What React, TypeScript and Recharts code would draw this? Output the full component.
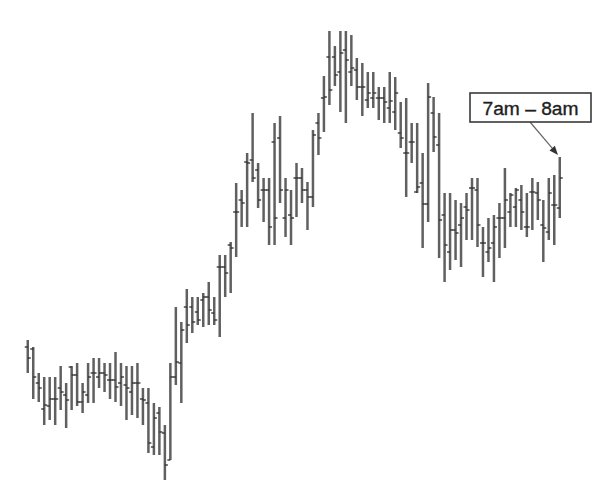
import { BarChart, Bar, XAxis, YAxis, ReferenceDot } from 'recharts'

// hourly OHLC bars, price units (higher = up)
const open = [
  153, 151, 117, 91, 94, 101, 112, 105, 133, 125, 98, 105, 127, 123, 127, 120, 120, 117, 115, 108,
  117, 101, 97, 53, 87, 67, 40, 123, 137, 193, 193, 188, 200, 203, 187, 233, 233, 255, 288, 300,
  338, 340, 330, 310, 310, 358, 362, 282, 285, 322, 322, 310, 303, 377, 402, 443, 443, 428, 450, 428,
  430, 413, 400, 402, 402, 402, 392, 388, 367, 347, 358, 308, 317, 296, 387, 355, 285, 248, 270, 275,
  293, 312, 310, 257, 248, 257, 282, 282, 288, 293, 300, 273, 308, 307, 275, 268, 295, 292,
]
const high = [
  160, 153, 127, 123, 123, 123, 134, 117, 134, 137, 117, 137, 142, 142, 137, 137, 148, 137, 134, 134,
  137, 112, 112, 97, 93, 75, 137, 193, 178, 211, 203, 203, 207, 218, 203, 245, 245, 258, 317, 310,
  347, 387, 337, 322, 322, 377, 384, 322, 310, 337, 332, 318, 370, 387, 424, 469, 454, 469, 469, 465,
  442, 437, 428, 428, 413, 413, 428, 423, 398, 402, 377, 377, 347, 417, 403, 387, 307, 307, 300, 297,
  307, 322, 322, 273, 282, 285, 297, 332, 307, 312, 315, 307, 322, 318, 300, 322, 325, 343,
]
const low = [
  127, 101, 98, 75, 80, 75, 90, 72, 90, 94, 87, 97, 97, 112, 108, 101, 98, 94, 80, 85,
  82, 75, 47, 45, 45, 20, 40, 115, 97, 157, 167, 175, 173, 175, 175, 163, 203, 207, 243, 273,
  273, 318, 292, 278, 255, 255, 297, 263, 255, 283, 297, 270, 293, 345, 368, 395, 414, 388, 377, 414,
  400, 384, 392, 392, 380, 377, 377, 370, 352, 303, 337, 307, 252, 278, 348, 242, 218, 230, 240, 233,
  260, 260, 253, 223, 238, 218, 242, 252, 273, 273, 270, 263, 270, 280, 238, 260, 255, 282,
]
const close = [
  142, 123, 112, 95, 101, 101, 108, 100, 125, 98, 108, 123, 127, 127, 125, 120, 113, 123, 112, 117,
  117, 100, 57, 82, 68, 35, 123, 138, 170, 175, 178, 180, 203, 190, 180, 233, 227, 252, 288, 297,
  337, 322, 300, 310, 273, 282, 310, 310, 282, 322, 310, 303, 365, 362, 403, 410, 425, 447, 440, 432,
  413, 413, 407, 407, 402, 398, 399, 407, 362, 347, 358, 313, 296, 403, 363, 280, 255, 270, 267, 282,
  290, 312, 275, 257, 252, 273, 282, 300, 305, 310, 288, 273, 308, 300, 272, 307, 295, 322,
]

const calloutText = '7am – 8am'

const data = open.map((o, i) => ({
  idx: i,
  open: o,
  high: high[i],
  low: low[i],
  close: close[i],
  range: [low[i], high[i]],
}))

const last = data.length - 1

function OhlcBar(props: any) {
  const { x, y, width, height, payload } = props
  const cx = x + width / 2
  const top = Math.min(y, y + height)
  const h = Math.abs(height)
  const span = payload.high - payload.low || 1
  const yOf = (v: number) => top + ((payload.high - v) / span) * h
  const yo = yOf(payload.open)
  const yc = yOf(payload.close)
  return (
    <g>
      <line x1={cx} x2={cx} y1={top} y2={top + h} stroke="#606060" strokeWidth={2.5} />
      <line x1={cx - 3} x2={cx} y1={yo} y2={yo} stroke="#2a2a2a" strokeWidth={1.3} />
      <line x1={cx} x2={cx + 3} y1={yc} y2={yc} stroke="#2a2a2a" strokeWidth={1.3} />
    </g>
  )
}

function Callout(props: any) {
  const { cx, cy } = props
  const tipX = cx - 2
  const tipY = cy - 2
  const sx = cx - 30
  const sy = cy - 35
  const dx = tipX - sx
  const dy = tipY - sy
  const len = Math.sqrt(dx * dx + dy * dy)
  const ux = dx / len
  const uy = dy / len
  const bx = tipX - ux * 9
  const by = tipY - uy * 9
  const head = `${tipX},${tipY} ${bx - uy * 3.5},${by + ux * 3.5} ${bx + uy * 3.5},${by - ux * 3.5}`
  return (
    <g>
      <line x1={sx} y1={sy} x2={bx} y2={by} stroke="#666" strokeWidth={1.2} />
      <polygon points={head} fill="#333" />
      <rect x={cx - 90} y={cy - 64} width={121} height={29} fill="#fff" stroke="#3a3a3a" strokeWidth={1.6} />
      <text
        x={cx - 29.5}
        y={cy - 42.5}
        textAnchor="middle"
        fontFamily="'Liberation Sans', Arial, sans-serif"
        fontSize={18}
        fill="#1e1e1e"
        stroke="#1e1e1e"
        strokeWidth={0.35}
        textLength={96}
        lengthAdjust="spacingAndGlyphs"
      >
        {calloutText}
      </text>
    </g>
  )
}

export default function App() {
  return (
    <div style={{ position: 'absolute', left: 0, top: 0, background: '#fff' }}>
      <BarChart width={605} height={496} data={data} margin={{ top: 0, right: 0, bottom: 0, left: 0 }}>
        <XAxis dataKey="idx" type="number" domain={[-5.105, 105.205]} hide />
        <YAxis type="number" domain={[4, 500]} hide allowDataOverflow />
        <Bar dataKey="range" barSize={3} shape={OhlcBar} isAnimationActive={false} />
        <ReferenceDot
          x={last}
          y={high[last]}
          r={0}
          ifOverflow="visible"
          shape={Callout}
        />
      </BarChart>
    </div>
  )
}
